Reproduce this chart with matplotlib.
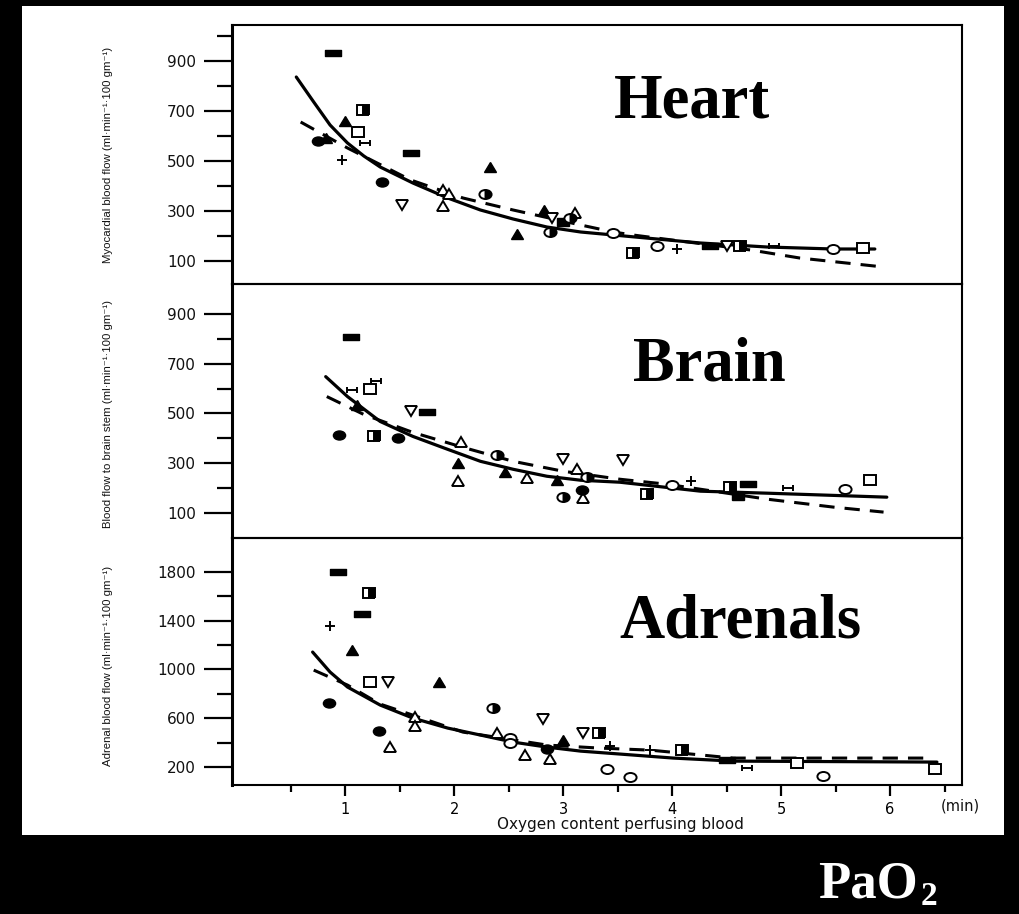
import matplotlib
matplotlib.use("Agg")
import matplotlib.pyplot as plt
from matplotlib.markers import MarkerStyle
from matplotlib.path import Path
from matplotlib.transforms import Affine2D
from matplotlib.patches import Rectangle
from matplotlib.ticker import FixedLocator
import matplotlib.font_manager as fm

# ---------------- data ----------------
heart_x = [0.89, 1.16, 1.00, 1.12, 1.18, 0.75, 0.82, 0.97, 1.60, 1.34, 1.52, 1.90, 1.90, 1.95,
           2.28, 2.33, 2.58, 2.82, 2.90, 2.88, 3.00, 3.11, 3.06, 3.46, 3.64, 3.86, 4.04, 4.35,
           4.50, 4.62, 4.93, 5.48, 5.75]
heart_y = [932, 704, 660, 616, 572, 580, 592, 504, 532, 416, 324, 320, 384, 368,
           368, 476, 208, 304, 272, 216, 256, 292, 272, 212, 132, 160, 148, 160,
           160, 160, 160, 148, 152]
heart_sym = ["rect", "halfsq", "ftri", "opensq", "dcross", "fcirc", "ftri", "plus", "rect", "fcirc",
             "oinv", "otri", "otri", "otri", "hcirc", "ftri", "ftri", "ftri", "oinv", "hcirc",
             "fsq", "otri", "hcirc", "ocirc", "halfsq", "ocirc", "plus", "rect", "oinv", "halfsq",
             "dcross", "ocirc", "opensq"]

brain_x = [1.05, 1.28, 1.06, 1.23, 1.11, 0.94, 1.26, 1.48, 1.60, 1.75, 2.06, 2.03, 2.03, 2.39,
           2.47, 2.67, 2.94, 3.00, 3.13, 3.22, 3.00, 3.17, 3.18, 3.55, 3.77, 4.00, 4.17, 4.53,
           4.70, 4.60, 5.06, 5.59, 5.82]
brain_y = [808, 632, 596, 600, 536, 412, 408, 400, 508, 504, 384, 300, 228, 332,
           264, 240, 232, 316, 276, 244, 164, 192, 160, 312, 176, 212, 228, 204,
           216, 168, 200, 196, 232]
brain_sym = ["rect", "dcross", "dcross", "opensq", "ftri", "fcirc", "halfsq", "fcirc", "oinv", "rect",
             "otri", "ftri", "otri", "hcirc", "ftri", "otri", "ftri", "oinv", "otri", "hcirc",
             "hcirc", "fcirc", "otri", "oinv", "halfsq", "ocirc", "plus", "halfsq", "rect", "fsq",
             "dcross", "ocirc", "opensq"]

adrenal_x = [0.93, 1.22, 1.15, 0.86, 1.06, 1.23, 1.39, 1.86, 0.85, 1.31, 1.41, 1.64, 1.64, 2.36,
             2.81, 2.39, 2.51, 2.51, 2.65, 2.85, 2.88, 3.00, 3.18, 3.33, 3.43, 3.80, 4.09, 4.50,
             4.69, 5.15, 3.40, 3.61, 5.38, 6.41]
adrenal_y = [1800, 1627, 1455, 1357, 1160, 897, 897, 897, 724, 495, 363, 610, 536, 683,
             597, 478, 437, 396, 298, 347, 265, 421, 482, 482, 371, 338, 338, 257,
             191, 232, 183, 117, 125, 183]
adrenal_sym = ["rect", "halfsq", "rect", "plus", "ftri", "opensq", "oinv", "ftri", "fcirc", "fcirc",
               "otri", "otri", "otri", "hcirc", "oinv", "otri", "ocirc", "ocirc", "otri", "fcirc",
               "otri", "ftri", "oinv", "halfsq", "plus", "plus", "halfsq", "rect", "dcross", "opensq",
               "ocirc", "ocirc", "ocirc", "opensq"]

# fitted curves
heart_fit_x = [0.55, 0.71, 0.86, 1.02, 1.17, 1.32, 1.62, 1.94, 2.24, 2.54, 2.85, 3.16, 3.46, 4.26, 4.87, 5.48, 5.86]
heart_fit_y = [836, 736, 644, 572, 520, 476, 412, 352, 304, 268, 236, 216, 204, 172, 156, 148, 148]
heart_dash_x = [0.59, 1.02, 1.60, 2.08, 2.54, 3.16, 3.46, 3.64, 4.72, 5.17, 5.94]
heart_dash_y = [656, 552, 424, 352, 304, 244, 216, 204, 144, 112, 76]

brain_fit_x = [0.82, 1.02, 1.32, 1.62, 1.94, 2.24, 2.54, 2.85, 3.16, 3.52, 4.26, 4.87, 5.97]
brain_fit_y = [648, 568, 468, 408, 356, 308, 276, 248, 232, 224, 188, 180, 164]
brain_dash_x = [0.83, 1.17, 1.62, 2.08, 2.54, 3.00, 3.52, 3.95, 4.87, 5.48, 5.94]
brain_dash_y = [568, 496, 424, 364, 308, 268, 236, 216, 156, 124, 104]

adrenal_fit_x = [0.70, 0.86, 1.02, 1.32, 1.62, 1.94, 2.24, 2.54, 2.85, 3.16, 3.52, 4.01, 4.56, 6.43]
adrenal_fit_y = [1143, 979, 856, 708, 601, 519, 462, 404, 363, 330, 306, 273, 248, 240]
adrenal_dash_x = [0.71, 1.02, 1.32, 2.08, 2.85, 3.31, 3.80, 4.56, 6.39]
adrenal_dash_y = [995, 872, 716, 486, 380, 356, 338, 273, 273]

x_major = [1, 2, 3, 4, 5, 6]
x_minor = [0.5, 1.5, 2.5, 3.5, 4.5, 5.5, 6.5]
heart_major = [100, 300, 500, 700, 900]
heart_minor = [200, 400, 600, 800, 1000]
brain_major = [100, 300, 500, 700, 900]
brain_minor = [200, 400, 600, 800]
adrenal_major = [200, 600, 1000, 1400, 1800]
adrenal_minor = [400, 800, 1200, 1600]

titles = ["Heart", "Brain", "Adrenals"]
ylabels = ["Myocardial blood flow (ml\u00b7min\u207b\u00b9\u00b7100 gm\u207b\u00b9)",
           "Blood flow to brain stem (ml\u00b7min\u207b\u00b9\u00b7100 gm\u207b\u00b9)",
           "Adrenal blood flow (ml\u00b7min\u207b\u00b9\u00b7100 gm\u207b\u00b9)"]
xlabel = "Oxygen content perfusing blood"

# ---------------- styling ----------------
W, H = 1020, 914
installed = {f.name for f in fm.fontManager.ttflist}
narrow = ["Liberation Sans Narrow", "DejaVu Sans"] if "Liberation Sans Narrow" in installed else ["Liberation Sans", "DejaVu Sans"]
plt.rcParams["font.family"] = ["DejaVu Sans"]

rect_path = Path([(-1, -0.45), (1, -0.45), (1, 0.45), (-1, 0.45), (-1, -0.45)],
                 [Path.MOVETO, Path.LINETO, Path.LINETO, Path.LINETO, Path.CLOSEPOLY])
dcross_path = Path([(-1, 0), (1, 0), (-1, -0.6), (-1, 0.6), (1, -0.6), (1, 0.6)],
                   [Path.MOVETO, Path.LINETO, Path.MOVETO, Path.LINETO, Path.MOVETO, Path.LINETO])
wide = Affine2D().scale(1.35, 1.0)

STY = {
    "rect":   dict(marker=MarkerStyle(rect_path), ms=11, mfc="k", mec="k", mew=1),
    "fsq":    dict(marker=MarkerStyle("s", transform=wide), ms=6, mfc="k", mec="k", mew=1),
    "halfsq": dict(marker=MarkerStyle("s", fillstyle="right", transform=wide), ms=6.5, mfc="k",
                   mfcalt="w", mec="k", mew=1.4),
    "opensq": dict(marker=MarkerStyle("s", transform=wide), ms=6.5, mfc="w", mec="k", mew=1.4),
    "ftri":   dict(marker=MarkerStyle("^", transform=wide), ms=6.5, mfc="k", mec="k", mew=1),
    "otri":   dict(marker=MarkerStyle("^", transform=wide), ms=6.5, mfc="w", mec="k", mew=1.4),
    "oinv":   dict(marker=MarkerStyle("v", transform=wide), ms=6.5, mfc="w", mec="k", mew=1.4),
    "fcirc":  dict(marker=MarkerStyle("o", transform=wide), ms=6.5, mfc="k", mec="k", mew=1),
    "hcirc":  dict(marker=MarkerStyle("o", fillstyle="right", transform=wide), ms=6.5, mfc="k",
                   mfcalt="w", mec="k", mew=1.4),
    "ocirc":  dict(marker=MarkerStyle("o", transform=wide), ms=6.5, mfc="w", mec="k", mew=1.4),
    "plus":   dict(marker="+", ms=7, mec="k", mew=1.4),
    "dcross": dict(marker=MarkerStyle(dcross_path), ms=7, mfc="none", mec="k", mew=1.4),
}

fig = plt.figure(figsize=(W / 100, H / 100), dpi=100, facecolor="black")
fig.patches.append(Rectangle((22 / W, 1 - 835 / H), (1004 - 22) / W, (835 - 6) / H,
                             transform=fig.transFigure, facecolor="white", edgecolor="none", zorder=-5))

left, right = 232, 962
panels = [(25, 284), (284, 538), (538, 785)]
ylims = [(8, 1044), (0, 1020), (52, 2079)]
majors = [heart_major, brain_major, adrenal_major]
minors = [heart_minor, brain_minor, adrenal_minor]
pts = [(heart_x, heart_y, heart_sym), (brain_x, brain_y, brain_sym), (adrenal_x, adrenal_y, adrenal_sym)]
fits = [(heart_fit_x, heart_fit_y, heart_dash_x, heart_dash_y),
        (brain_fit_x, brain_fit_y, brain_dash_x, brain_dash_y),
        (adrenal_fit_x, adrenal_fit_y, adrenal_dash_x, adrenal_dash_y)]
title_pos = [(692, 118), (709, 381), (740, 637)]
ylabel_y = [155, 414, 666]

axes = []
for i, (top, bot) in enumerate(panels):
    ax = fig.add_axes([left / W, 1 - bot / H, (right - left) / W, (bot - top) / H])
    ax.set_facecolor("none")
    ax.set_xlim(-0.04, 6.66)
    ax.set_ylim(*ylims[i])
    for s in ax.spines.values():
        s.set_linewidth(1.5)
    ax.spines["left"].set_linewidth(2.2)
    ax.yaxis.set_major_locator(FixedLocator(majors[i]))
    ax.yaxis.set_minor_locator(FixedLocator(minors[i]))
    ax.tick_params(axis="y", which="major", direction="out", length=20, width=1.6, pad=6,
                   labelsize=11, labelcolor="#111111")
    ax.tick_params(axis="y", which="minor", direction="out", length=11, width=1.6)
    if i < 2:
        ax.tick_params(axis="x", which="both", bottom=False, labelbottom=False)
    else:
        ax.xaxis.set_major_locator(FixedLocator(x_major))
        ax.xaxis.set_minor_locator(FixedLocator(x_minor))
        ax.tick_params(axis="x", which="major", direction="out", length=8, width=1.6, pad=4,
                       labelsize=10.5)
        ax.tick_params(axis="x", which="minor", direction="out", length=5, width=1.6)
    fx, fy, dx, dy = fits[i]
    ax.plot(fx, fy, color="k", lw=2.3, solid_capstyle="round", solid_joinstyle="round", zorder=2)
    ax.plot(dx, dy, color="k", lw=2.2, dashes=(5, 3.3), dash_joinstyle="round", zorder=2)
    xs, ys, syms = pts[i]
    for key in STY:
        gx = [x for x, s in zip(xs, syms) if s == key]
        gy = [y for y, s in zip(ys, syms) if s == key]
        if gx:
            ax.plot(gx, gy, linestyle="none", zorder=3, **STY[key])
    tx, ty = title_pos[i]
    fig.text(tx / W, 1 - ty / H, titles[i], ha="center", va="baseline",
             family=["Liberation Serif", "DejaVu Serif"], fontweight="bold", fontsize=45, color="k")
    fig.text(108 / W, 1 - ylabel_y[i] / H, ylabels[i], rotation=90, ha="center", va="center",
             family=narrow, fontsize=8.2, color="#111111")
    axes.append(ax)

fig.text(960 / W, 1 - 806 / H, "(min)", ha="center", va="center", fontsize=10.5, color="#111111")
fig.text(620 / W, 1 - 825 / H, xlabel, ha="center", va="center", fontsize=11, color="#111111")

fig.text(818 / W, 1 - 898 / H, "PaO", ha="left", va="baseline",
         family=["Liberation Serif", "DejaVu Serif"], fontweight="bold", fontsize=38, color="white")
fig.text(921 / W, 1 - 905 / H, "2", ha="left", va="baseline",
         family=["Liberation Serif", "DejaVu Serif"], fontweight="bold", fontsize=24, color="white")

fig.savefig("out.png", dpi=100, facecolor="black")
